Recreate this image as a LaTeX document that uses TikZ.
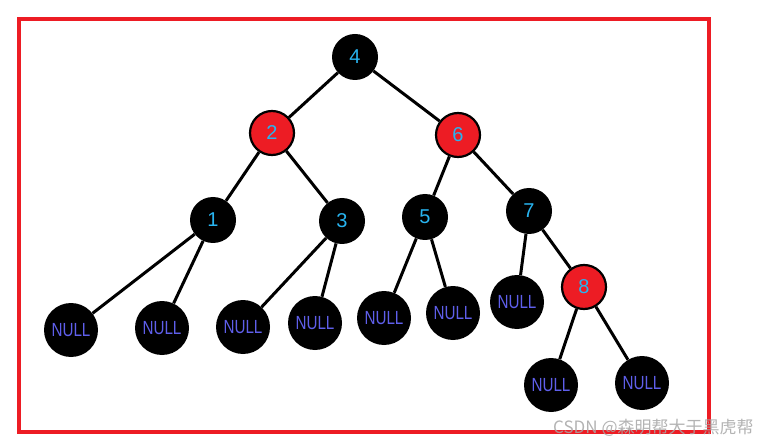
\documentclass[tikz,border=0pt]{standalone}
\usepackage{fontspec}
\setmainfont{Liberation Sans}
\newfontfamily\cjkfont{Noto Sans CJK SC}
\definecolor{paintred}{RGB}{237,28,36}
\definecolor{numblue}{RGB}{40,180,240}
\definecolor{nullblue}{RGB}{95,95,235}
\begin{document}
\begin{tikzpicture}[x=1pt,y=-1pt,
  edge/.style={line width=3pt},
  blk/.style={circle,fill=black,minimum size=46pt,inner sep=0pt,text=numblue,font=\fontsize{20}{20}\selectfont},
  rednode/.style={blk,fill=paintred,draw=black,line width=2.2pt,minimum size=44pt},
  nullnode/.style={circle,fill=black,minimum size=54pt,inner sep=0pt,text=nullblue,font=\fontsize{19}{19}\selectfont},
  frame/.style={draw=paintred,line width=4pt}]
\useasboundingbox (0,0) rectangle (765,446);
\draw[frame] (19,19.5) rectangle (709,432);
% value nodes
\node[blk] (n4) at (355,57) {4};
\node[rednode] (n2) at (272,133) {2};
\node[rednode] (n6) at (458,135) {6};
\node[blk] (n1) at (213,220) {1};
\node[blk] (n3) at (342,221) {3};
\node[blk] (n5) at (425,217) {5};
\node[blk] (n7) at (529,211) {7};
\node[rednode] (n8) at (584,287) {8};
% NULL leaves
\node[nullnode] (l1) at (71,330) {\scalebox{0.8}[1]{NULL}};
\node[nullnode] (l2) at (162,328) {\scalebox{0.8}[1]{NULL}};
\node[nullnode] (l3) at (243,327) {\scalebox{0.8}[1]{NULL}};
\node[nullnode] (l4) at (315,323) {\scalebox{0.8}[1]{NULL}};
\node[nullnode] (l5) at (384,318) {\scalebox{0.8}[1]{NULL}};
\node[nullnode] (l6) at (453,313) {\scalebox{0.8}[1]{NULL}};
\node[nullnode] (l7) at (517,302) {\scalebox{0.8}[1]{NULL}};
\node[nullnode] (l8) at (551,385) {\scalebox{0.8}[1]{NULL}};
\node[nullnode] (l9) at (642,383) {\scalebox{0.8}[1]{NULL}};
% edges
\draw[edge] (n4) -- (n2);
\draw[edge] (n4) -- (n6);
\draw[edge] (n2) -- (n1);
\draw[edge] (n2) -- (n3);
\draw[edge] (n6) -- (n5);
\draw[edge] (n6) -- (n7);
\draw[edge] (n1) -- (l1);
\draw[edge] (n1) -- (l2);
\draw[edge] (n3) -- (l3);
\draw[edge] (n3) -- (l4);
\draw[edge] (n5) -- (l5);
\draw[edge] (n5) -- (l6);
\draw[edge] (n7) -- (l7);
\draw[edge] (n7) -- (n8);
\draw[edge] (n8) -- (l8);
\draw[edge] (n8) -- (l9);
% watermark
\node[anchor=west,inner sep=0pt,text=black!35,opacity=0.85,font=\cjkfont\fontsize{17}{17}\selectfont] (wm) at (553,428) {CSDN @森明帮大于黑虎帮};
\end{tikzpicture}
\end{document}
